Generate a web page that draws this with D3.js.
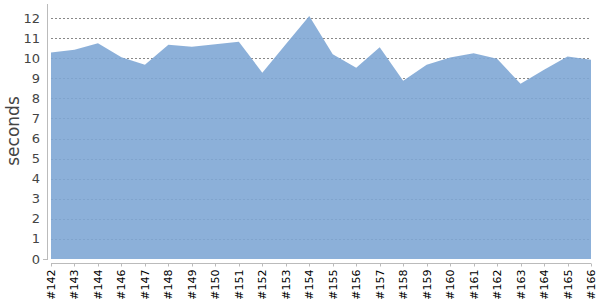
<!DOCTYPE html>
<html><head><meta charset="utf-8">
<script src="https://cdn.jsdelivr.net/npm/d3@7"></script>
<style>body{margin:0;background:#fff}svg{display:block;font-family:"DejaVu Sans",sans-serif}</style>
</head><body><svg id="c" width="600" height="300"></svg>
<script>
const builds = ["#142","#143","#144","#146","#147","#148","#149","#150","#151","#152","#153","#154","#155","#156","#157","#158","#159","#160","#161","#162","#163","#164","#165","#166"];
const seconds = [10.28,10.42,10.75,10.05,9.68,10.67,10.57,10.7,10.82,9.28,10.7,12.1,10.2,9.53,10.55,8.88,9.67,10.03,10.25,9.97,8.73,9.42,10.08,9.92];
const yTicks = [0,1,2,3,4,5,6,7,8,9,10,11,12];
const yLabel = "seconds";

const svg = d3.select("#c");
const x = d3.scalePoint().domain(builds).range([51, 591]);
const y = d3.scaleLinear().domain([0, 12.7]).range([259, 4]);

// grid
svg.append("g").selectAll("line").data(yTicks.filter(d=>d>0)).join("line")
  .attr("x1", 51).attr("x2", 591)
  .attr("y1", d=>Math.round(y(d))+0.5).attr("y2", d=>Math.round(y(d))+0.5)
  .attr("stroke", "#888").attr("stroke-dasharray", "2,2");

// area
const area = d3.area().x((d,i)=>x(builds[i])).y0(y(0)).y1(d=>y(d));
svg.append("path").datum(seconds).attr("d", area)
  .attr("fill", "#80a7d5").attr("fill-opacity", 0.9);

// y axis
svg.append("line").attr("x1", 47.5).attr("x2", 47.5).attr("y1", 4).attr("y2", 260)
  .attr("stroke", "#bbb");
svg.append("g").selectAll("text").data(yTicks).join("text")
  .attr("x", 40).attr("y", d=>y(d)).attr("dy", "0.35em")
  .attr("text-anchor", "end").attr("font-size", 13).attr("fill", "#444")
  .text(d=>d);
svg.append("line").attr("x1", 43).attr("x2", 47).attr("y1", 259.5).attr("y2", 259.5).attr("stroke", "#bbb");

// x axis
const xa = svg.append("g").attr("transform", "translate(0,263.5)");
xa.append("line").attr("x1", 51).attr("x2", 591).attr("stroke", "#bbb");
xa.selectAll("line.t").data(builds).join("line").attr("class","t")
  .attr("x1", d=>Math.round(x(d))+0.5).attr("x2", d=>Math.round(x(d))+0.5)
  .attr("y1", 0).attr("y2", 3).attr("stroke", "#bbb");
xa.selectAll("text").data(builds).join("text")
  .attr("transform", d=>`translate(${x(d)+4},6) rotate(-90)`)
  .attr("text-anchor", "end").attr("font-size", 11).attr("fill", "#000")
  .text(d=>d);

svg.append("text").attr("transform", "translate(19,131) rotate(-90)")
  .attr("text-anchor", "middle").attr("font-size", 17).attr("fill", "#444")
  .text(yLabel);
</script></body></html>
